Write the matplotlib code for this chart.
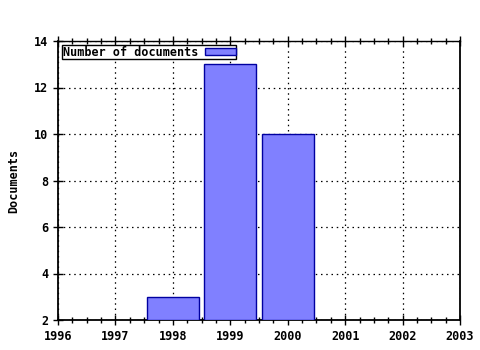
import matplotlib
matplotlib.use('Agg')
import matplotlib.pyplot as plt
from matplotlib.ticker import MultipleLocator

years = [1998, 1999, 2000]
documents = [3, 13, 10]
series_label = 'Number of documents'
x_ticks = list(range(1996, 2004))
y_ticks = [2, 4, 6, 8, 10, 12, 14]

plt.rcParams['font.family'] = 'DejaVu Sans Mono'
plt.rcParams['font.weight'] = 'bold'
plt.rcParams['axes.labelweight'] = 'bold'
plt.rcParams['font.size'] = 8.5

fig = plt.figure(figsize=(4.8, 3.5), dpi=100)
ax = fig.add_axes([58 / 480, 1 - 320 / 350, (460 - 58) / 480, (320 - 41) / 350])

ax.bar(years, [d - 2 for d in documents], bottom=2, width=0.9,
       color='#8080ff', edgecolor='#0000a0', linewidth=1.0,
       label=series_label, zorder=3)

ax.set_xlim(1996, 2003)
ax.set_ylim(2, 14)
ax.set_xticks(x_ticks)
ax.set_yticks(y_ticks)
ax.xaxis.set_minor_locator(MultipleLocator(0.25))
ax.grid(True, which='major', linestyle=(0, (1.2, 3)), color='black', linewidth=0.9, zorder=0)

ax.tick_params(which='major', direction='inout', length=7, width=1, top=True, right=False)
ax.tick_params(which='minor', direction='inout', length=4, width=1, top=True)
ax.tick_params(axis='y', which='minor', left=False)
for side in ['left', 'bottom', 'right']:
    ax.spines[side].set_linewidth(1.3)
ax.spines['top'].set_linewidth(1.0)

ax.set_ylabel('Documents', labelpad=10)

leg = ax.legend(loc='upper left', markerfirst=False, fancybox=False,
                edgecolor='black', framealpha=1, borderpad=0.05,
                handlelength=2.6, handleheight=0.55, handletextpad=0.6,
                borderaxespad=0.35)
leg.get_frame().set_linewidth(1.0)

fig.savefig('out.png', dpi=100, facecolor='white')
